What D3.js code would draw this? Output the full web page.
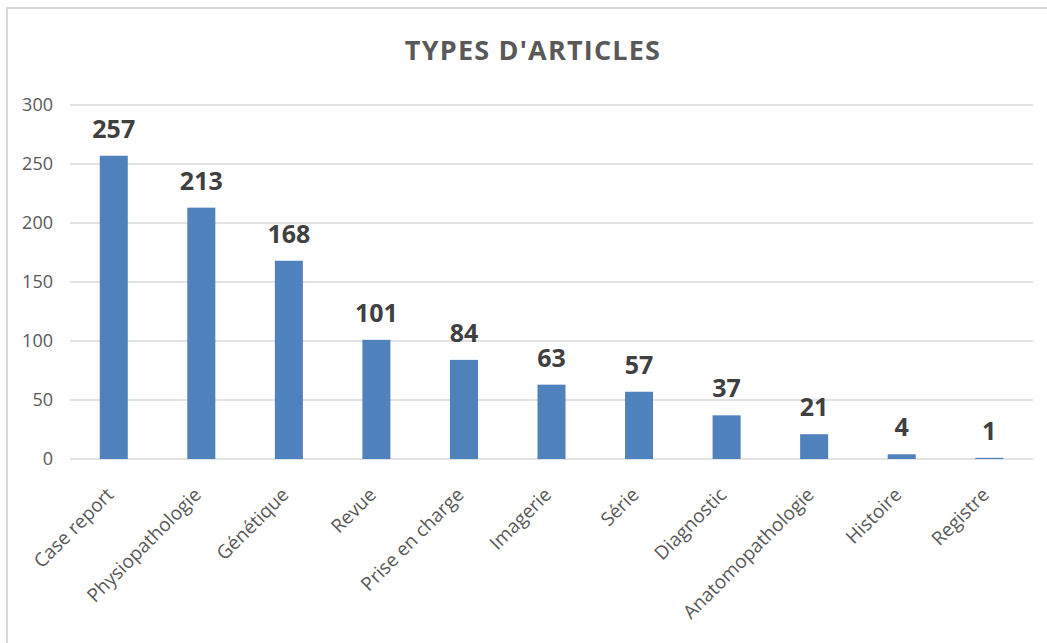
<!DOCTYPE html>
<html>
<head>
<meta charset="utf-8">
<script src="https://cdn.jsdelivr.net/npm/d3@7"></script>
<style>
  body { margin: 0; background: #fff; }
  text { font-family: "Open Sans", "Noto Sans", sans-serif; }
</style>
</head>
<body>
<svg id="svg" width="1047" height="643"></svg>
<script>
// article types and counts
const categories = ["Case report", "Physiopathologie", "Génétique", "Revue", "Prise en charge",
  "Imagerie", "Série", "Diagnostic", "Anatomopathologie", "Histoire", "Registre"];
const counts = [257, 213, 168, 101, 84, 63, 57, 37, 21, 4, 1];
const yTicks = [0, 50, 100, 150, 200, 250, 300];
const title = "TYPES D'ARTICLES";

const svg = d3.select("svg");
const margin = { left: 70, top: 105, right: 14, bottom: 184 };
const width = 1047 - margin.left - margin.right,
      height = 643 - margin.top - margin.bottom;

// chart border (cut off at right / bottom like the screenshot)
svg.append("rect")
  .attr("x", 7).attr("y", 8)
  .attr("width", 1060).attr("height", 660)
  .attr("fill", "none").attr("stroke", "#d9d9d9").attr("stroke-width", 2);

const x = d3.scaleBand().domain(categories).range([0, width]).paddingInner(0.68).paddingOuter(0.34);
const y = d3.scaleLinear().domain([0, 300]).range([height, 0]);

const g = svg.append("g").attr("transform", "translate(" + margin.left + "," + margin.top + ")");

// gridlines
g.selectAll(".grid")
  .data(yTicks)
  .enter().append("line")
    .attr("x1", 0).attr("x2", width)
    .attr("y1", d => y(d)).attr("y2", d => y(d))
    .attr("stroke", "#d9d9d9").attr("stroke-width", 1.3);

// y axis labels
const yAxis = g.append("g").call(d3.axisLeft(y).tickValues(yTicks).tickSize(0).tickPadding(17));
yAxis.select(".domain").remove();
yAxis.selectAll("text").attr("font-size", 18).attr("fill", "#595959");

// bars
g.selectAll(".bar")
  .data(counts)
  .enter().append("rect")
    .attr("class", "bar")
    .attr("x", (d, i) => x(categories[i]))
    .attr("width", x.bandwidth())
    .attr("y", d => y(d))
    .attr("height", d => height - y(d))
    .attr("fill", "#4f81bd");

// value labels
g.selectAll(".val")
  .data(counts)
  .enter().append("text")
    .attr("x", (d, i) => x(categories[i]) + x.bandwidth() / 2)
    .attr("y", d => y(d) - 18)
    .attr("text-anchor", "middle")
    .attr("font-size", 25).attr("font-weight", "bold").attr("fill", "#404040")
    .text(d => d);

// x labels rotated
g.selectAll(".xl")
  .data(categories)
  .enter().append("text")
    .attr("transform", d => "translate(" + (x(d) + x.bandwidth() / 2 + 1) + "," + (height + 37) + ") rotate(-45)")
    .attr("text-anchor", "end")
    .attr("font-size", 19).attr("fill", "#595959")
    .text(d => d);

// title
svg.append("text")
  .attr("x", 533).attr("y", 60)
  .attr("text-anchor", "middle")
  .attr("font-size", 27).attr("font-weight", "bold").attr("fill", "#595959")
  .attr("letter-spacing", 1.2)
  .text(title);
</script>
</body>
</html>
